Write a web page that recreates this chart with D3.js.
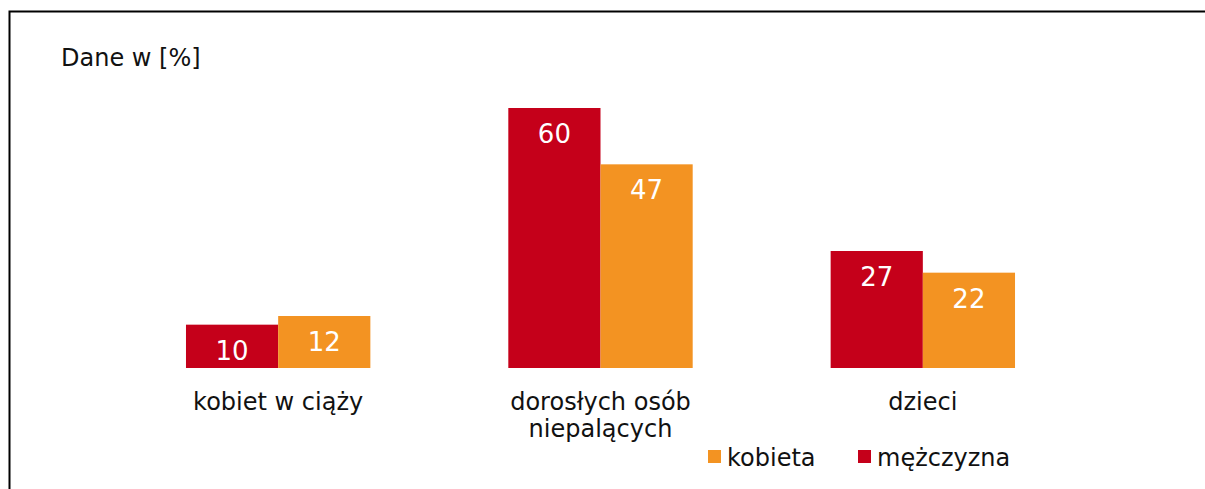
<!DOCTYPE html>
<html>
<head>
<meta charset="utf-8">
<script src="https://cdn.jsdelivr.net/npm/d3@7"></script>
<style>
  body { margin: 0; background: #fff; }
  text { font-family: "DejaVu Sans", Verdana, sans-serif; }
</style>
</head>
<body>
<script>
// Data
const categories = [["kobiet w ciąży"], ["dorosłych osób", "niepalących"], ["dzieci"]]
const seriesNames = ["mężczyzna", "kobieta"]
const menValues = [10, 60, 27]
const womenValues = [12, 47, 22]
const colors = {"mężczyzna": "#C5001A", "kobieta": "#F39322"}

// Global variables
var width = 1205
var height = 489
var baseline = 368

let svg = d3.select('body')
            .append('svg')
            .attr('width', width)
            .attr('height', height)

// frame
svg.append('rect')
   .attr('x', 9.5).attr('y', 11.5)
   .attr('width', 1300).attr('height', 600)
   .attr('fill', 'none').attr('stroke', '#000').attr('stroke-width', 2)

svg.append('text')
   .attr('x', 61).attr('y', 66)
   .attr('font-size', 24).attr('fill', '#111')
   .text('Dane w [%]')

// Scales
var x0 = d3.scaleBand()
           .domain(d3.range(categories.length))
           .range([117, 1084])
           .paddingInner(0.428)
           .paddingOuter(0.214)
var x1 = d3.scaleBand()
           .domain(seriesNames)
           .range([0, x0.bandwidth()])
var y = d3.scaleLinear()
          .domain([0, 60])
          .range([baseline, 108])

let rows = categories.map((c, i) => ({i: i, values: [
  {key: "mężczyzna", v: menValues[i]},
  {key: "kobieta", v: womenValues[i]}
]}))

let groups = svg.append('g')
                .selectAll('g')
                .data(rows)
                .enter()
                .append('g')
                .attr('transform', d => 'translate(' + x0(d.i) + ',0)')

groups.selectAll('rect')
      .data(d => d.values)
      .enter()
      .append('rect')
      .attr('x', d => x1(d.key))
      .attr('y', d => y(d.v))
      .attr('width', x1.bandwidth())
      .attr('height', d => baseline - y(d.v))
      .attr('fill', d => colors[d.key])

groups.selectAll('text.val')
      .data(d => d.values)
      .enter()
      .append('text')
      .attr('class', 'val')
      .attr('x', d => x1(d.key) + x1.bandwidth() / 2)
      .attr('y', d => y(d.v) + 35)
      .attr('text-anchor', 'middle')
      .attr('font-size', 26)
      .attr('fill', '#fff')
      .text(d => d.v)

// category labels
groups.append('text')
      .attr('x', x0.bandwidth() / 2)
      .attr('y', 410)
      .attr('text-anchor', 'middle')
      .attr('font-size', 24)
      .attr('fill', '#111')
      .selectAll('tspan')
      .data(d => categories[d.i])
      .enter()
      .append('tspan')
      .attr('x', x0.bandwidth() / 2)
      .attr('dy', (d, i) => i === 0 ? 0 : 27)
      .text(d => d)

// Legend
let legendItems = [
  {key: "kobieta", x: 708},
  {key: "mężczyzna", x: 858}
]
let legend = svg.append('g')
                .selectAll('g')
                .data(legendItems)
                .enter()
                .append('g')
                .attr('transform', d => 'translate(' + d.x + ',0)')
legend.append('rect')
      .attr('x', 0).attr('y', 450)
      .attr('width', 13).attr('height', 13)
      .attr('fill', d => colors[d.key])
legend.append('text')
      .attr('x', 19).attr('y', 466)
      .attr('font-size', 24)
      .attr('fill', '#111')
      .text(d => d.key)
</script>
</body>
</html>
